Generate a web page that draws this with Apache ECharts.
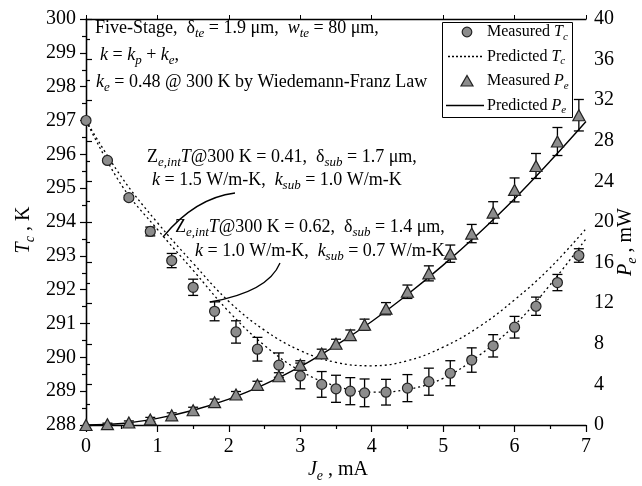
<!DOCTYPE html>
<html><head><meta charset="utf-8">
<script src="https://cdn.jsdelivr.net/npm/echarts@6/dist/echarts.min.js"></script>
<style>html,body{margin:0;padding:0;background:#fff}#c{width:642px;height:486px}</style>
</head><body><div id="c"></div>
<script>
// ---- data ----
const currentMA = [0,0.3,0.6,0.9,1.2,1.5,1.8,2.1,2.4,2.7,3.0,3.3,3.5,3.7,3.9,4.2,4.5,4.8,5.1,5.4,5.7,6.0,6.3,6.6,6.9];
const tcMeasured = [297.0,295.82,294.72,293.72,292.86,292.07,291.36,290.75,290.24,289.77,289.45,289.2,289.07,289.0,288.95,288.97,289.09,289.28,289.53,289.92,290.34,290.89,291.51,292.21,293.01];
const tcError = [0,0.03,0.06,0.13,0.21,0.24,0.28,0.33,0.35,0.36,0.38,0.38,0.4,0.4,0.41,0.38,0.4,0.4,0.37,0.36,0.33,0.32,0.27,0.24,0.2];
const peMeasured = [0,0.08,0.25,0.55,0.95,1.45,2.25,3.0,3.96,4.8,5.93,7.05,8.0,8.86,9.88,11.46,13.13,14.94,16.88,18.86,20.93,23.16,25.52,27.93,30.52];
const peError = [0,0.1,0.15,0.2,0.25,0.3,0.3,0.3,0.35,0.35,0.4,0.42,0.45,0.5,0.55,0.6,0.66,0.74,0.85,0.9,1.07,1.18,1.23,1.38,1.55];

const predX = [0,0.5,1,1.5,2,2.5,3,3.5,4,4.5,5,5.5,6,6.5,7];
const tcPredK15 = [297.0,295.32,293.98,292.78,291.65,290.8,290.2,289.85,289.75,289.9,290.3,290.9,291.7,292.65,293.8];
const tcPredK10 = [297.0,295.08,293.78,292.57,291.35,290.35,289.6,289.15,288.97,289.05,289.38,290.05,290.95,292.15,293.5];
const pePred = [0,0.15,0.65,1.45,2.55,4.0,5.75,7.85,10.2,12.85,15.75,18.9,22.3,26.0,29.9];

const xTicks = {min:0, max:7, interval:1};
const tcTicks = {min:288, max:300, interval:1};
const peTicks = {min:0, max:40, interval:4};

// ---- build ----
const FONT = 'Liberation Serif';
function mkRich(size, subSize, pad){
  return {
    n:{fontFamily:FONT, fontSize:size, color:'#000'},
    i:{fontFamily:FONT, fontSize:size, fontStyle:'italic', color:'#000'},
    s:{fontFamily:FONT, fontSize:subSize, fontStyle:'italic', color:'#000', padding:[pad,0,0,0]}
  };
}
const rich = mkRich(18, 13, 11);
const richL = mkRich(16, 11, 10);
const richT = mkRich(20, 14, 12);
const zip = (xs, ys) => xs.map((x,k)=>[x, ys[k]]);
const zip3 = (xs, ys, es) => xs.map((x,k)=>[x, ys[k], es[k]]);

function errRender(params, api){
  const x = api.value(0), y = api.value(1), e = api.value(2);
  if (!e) return null;
  const hi = api.coord([x, y+e]), lo = api.coord([x, y-e]);
  const hw = 5, st = {stroke:'#000', lineWidth:1.3};
  return {type:'group', children:[
    {type:'line', shape:{x1:hi[0],y1:hi[1],x2:lo[0],y2:lo[1]}, style:st},
    {type:'line', shape:{x1:hi[0]-hw,y1:hi[1],x2:hi[0]+hw,y2:hi[1]}, style:st},
    {type:'line', shape:{x1:lo[0]-hw,y1:lo[1],x2:lo[0]+hw,y2:lo[1]}, style:st}
  ]};
}

const axisLine = {show:true, lineStyle:{color:'#000', width:1.3}};
const labelStyle = {fontFamily:FONT, fontSize:20, color:'#000'};
const markerStyle = {color:'#8c8c8c', borderColor:'#222', borderWidth:1.2, opacity:1};

// legend (drawn as graphic)
const LX = 442, LY = 22;
const legendRows = [
  {kind:'circle', text:'{n|Measured }{i|T}{s|c}'},
  {kind:'dotted', text:'{n|Predicted }{i|T}{s|c}'},
  {kind:'triangle', text:'{n|Measured }{i|P}{s|e}'},
  {kind:'solid', text:'{n|Predicted }{i|P}{s|e}'}
];
const legendG = [{type:'rect', z:100, shape:{x:LX+0.5, y:LY+0.5, width:130, height:95}, style:{fill:'#fff', stroke:'#000', lineWidth:1}}];
legendRows.forEach((r,k)=>{
  const cy = LY + 10 + k*24.5, cx = LX + 25;
  if (r.kind==='circle') legendG.push({type:'circle', z:101, shape:{cx, cy, r:4.8}, style:{fill:markerStyle.color, stroke:'#222', lineWidth:1.2}});
  if (r.kind==='triangle') legendG.push({type:'polygon', z:101, shape:{points:[[cx-6,cy+5],[cx+6,cy+5],[cx,cy-5.5]]}, style:{fill:markerStyle.color, stroke:'#222', lineWidth:1.2}});
  if (r.kind==='dotted') legendG.push({type:'line', z:101, shape:{x1:LX+6,y1:cy,x2:LX+41,y2:cy}, style:{stroke:'#000', lineWidth:1.3, lineDash:[2,2]}});
  if (r.kind==='solid') legendG.push({type:'line', z:101, shape:{x1:LX+4,y1:cy,x2:LX+42,y2:cy}, style:{stroke:'#000', lineWidth:1.4}});
  legendG.push({type:'text', z:101, x:LX+45, y:cy, style:{rich:richL, text:r.text, verticalAlign:'middle', align:'left'}});
});

const chart = echarts.init(document.getElementById('c'), null, {renderer:'canvas'});
chart.setOption({
  animation:false,
  backgroundColor:'#fff',
  grid:{left:86, right:56, top:19, bottom:61, show:false},
  xAxis:[
    {type:'value', min:xTicks.min, max:xTicks.max, interval:xTicks.interval, position:'bottom',
     axisLine:axisLine, splitLine:{show:false},
     axisTick:{show:true, inside:false, length:7, lineStyle:{color:'#000', width:1.2}},
     minorTick:{show:true, splitNumber:2, length:4, lineStyle:{color:'#000', width:1.2}},
     axisLabel:{...labelStyle, margin:12}},
    {type:'value', min:xTicks.min, max:xTicks.max, interval:xTicks.interval, position:'top',
     axisLine:axisLine, splitLine:{show:false},
     axisTick:{show:true, inside:false, length:4, lineStyle:{color:'#000', width:1}},
     axisLabel:{show:false}}
  ],
  yAxis:[
    {type:'value', min:tcTicks.min, max:tcTicks.max, interval:tcTicks.interval, position:'left',
     axisLine:axisLine, splitLine:{show:false},
     axisTick:{show:true, inside:false, length:6, lineStyle:{color:'#000', width:1.2}},
     minorTick:{show:true, splitNumber:2, length:4, lineStyle:{color:'#000', width:1.2}},
     axisLabel:{...labelStyle, margin:10}},
    {type:'value', min:peTicks.min, max:peTicks.max, interval:peTicks.interval, position:'right',
     axisLine:axisLine, splitLine:{show:false},
     axisTick:{show:true, inside:false, length:6, lineStyle:{color:'#000', width:1.2}},
     minorTick:{show:true, splitNumber:2, length:4, lineStyle:{color:'#000', width:1.2}},
     axisLabel:{...labelStyle, margin:8}}
  ],
  series:[
    {name:'Predicted Tc (k=1.5)', type:'line', data:zip(predX, tcPredK15), smooth:0.4, symbol:'none',
     lineStyle:{color:'#000', width:1.3, type:[2,3]}, z:2},
    {name:'Predicted Tc (k=1.0)', type:'line', data:zip(predX, tcPredK10), smooth:0.4, symbol:'none',
     lineStyle:{color:'#000', width:1.3, type:[2,3]}, z:2},
    {name:'Predicted Pe', type:'line', yAxisIndex:1, data:zip(predX, pePred), smooth:0.4, symbol:'none',
     lineStyle:{color:'#000', width:1.4}, z:2},
    {type:'custom', renderItem:errRender, data:zip3(currentMA, tcMeasured, tcError), encode:{x:0,y:1}, z:3, silent:true},
    {type:'custom', yAxisIndex:1, renderItem:errRender, data:zip3(currentMA, peMeasured, peError), encode:{x:0,y:1}, z:3, silent:true},
    {name:'Measured Tc', type:'scatter', data:zip(currentMA, tcMeasured), symbol:'circle', symbolSize:10,
     itemStyle:markerStyle, z:4},
    {name:'Measured Pe', type:'scatter', yAxisIndex:1, data:zip(currentMA, peMeasured), symbol:'triangle', symbolSize:[12,11],
     itemStyle:markerStyle, z:4}
  ],
  graphic:[
    {type:'text', left:95, top:19, style:{rich, text:'{n|Five-Stage,  δ}{s|te}{n| = 1.9 μm,  }{i|w}{s|te}{n| = 80 μm,}'}},
    {type:'text', left:100, top:46, style:{rich, text:'{i|k}{n| = }{i|k}{s|p}{n| + }{i|k}{s|e}{n|,}'}},
    {type:'text', left:96, top:73, style:{rich, text:'{i|k}{s|e}{n| = 0.48 @ 300 K by Wiedemann-Franz Law}'}},
    {type:'text', left:147, top:148, style:{rich, text:'{n|Z}{s|e,int}{i|T}{n|@300 K = 0.41,  δ}{s|sub}{n| = 1.7 μm,}'}},
    {type:'text', left:152, top:171, style:{rich, text:'{i|k}{n| = 1.5 W/m-K,  }{i|k}{s|sub}{n| = 1.0 W/m-K}'}},
    {type:'text', left:175, top:218, style:{rich, text:'{n|Z}{s|e,int}{i|T}{n|@300 K = 0.62,  δ}{s|sub}{n| = 1.4 μm,}'}},
    {type:'text', left:195, top:242, style:{rich, text:'{i|k}{n| = 1.0 W/m-K,  }{i|k}{s|sub}{n| = 0.7 W/m-K}'}},
    {type:'bezierCurve', shape:{x1:235,y1:193,cpx1:195,cpy1:198,x2:163,y2:237}, style:{stroke:'#000', lineWidth:1.3, fill:null}},
    {type:'bezierCurve', shape:{x1:280,y1:263,cpx1:268,cpy1:292,x2:210,y2:302}, style:{stroke:'#000', lineWidth:1.3, fill:null}},
    {type:'text', x:24, y:230, rotation:Math.PI/2, style:{rich:richT, text:'{i|T}{s|c}{n| , K}', align:'center', verticalAlign:'middle'}},
    {type:'text', x:626, y:242, rotation:Math.PI/2, style:{rich:richT, text:'{i|P}{s|e}{n| , mW}', align:'center', verticalAlign:'middle'}},
    {type:'text', x:338, y:470, style:{rich:richT, text:'{i|J}{s|e}{n| , mA}', align:'center', verticalAlign:'middle'}},
    ...legendG
  ]
});
</script></body></html>
